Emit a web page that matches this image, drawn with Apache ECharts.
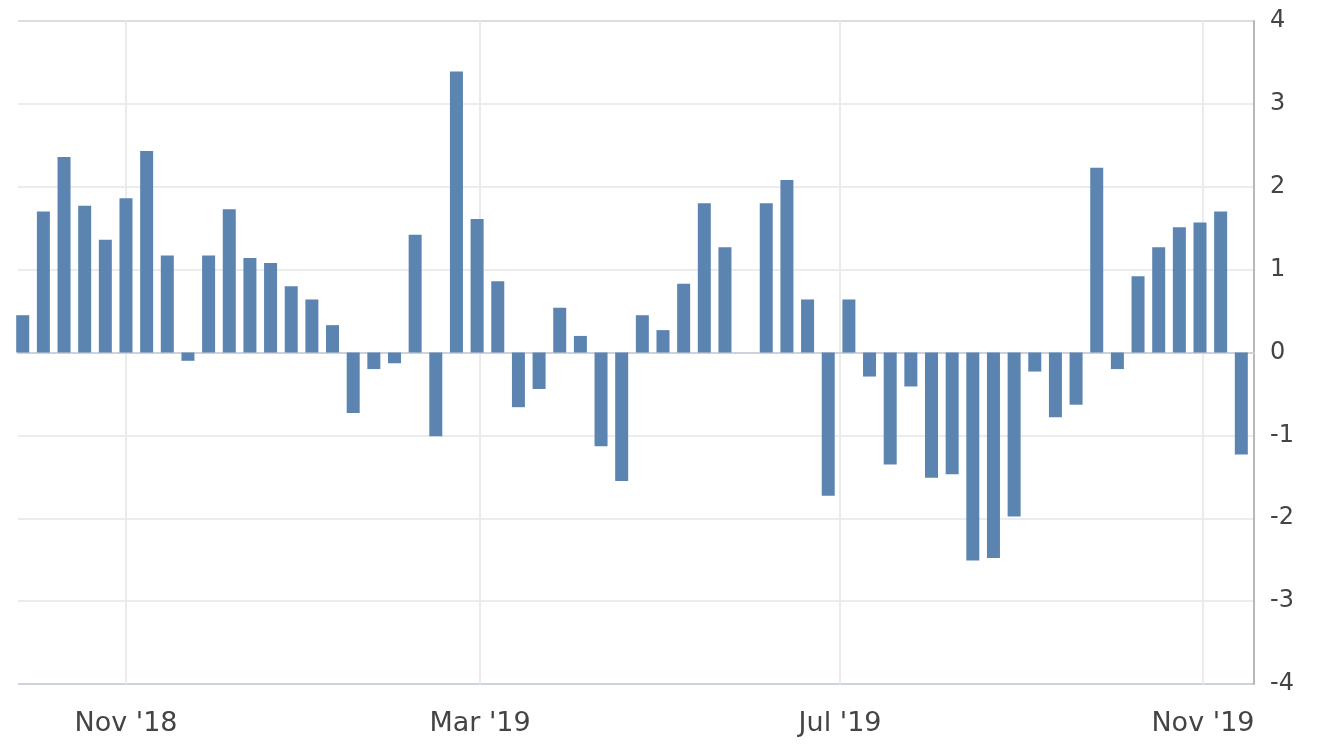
<!DOCTYPE html>
<html>
<head>
<meta charset="utf-8">
<script src="https://cdn.jsdelivr.net/npm/echarts@6/dist/echarts.min.js"></script>
<style>
html,body{margin:0;padding:0;background:#fff;}
#chart{width:1332px;height:750px;}
</style>
</head>
<body>
<div id="chart"></div>
<script>
var weeks = [
  '2018-09-27','2018-10-04','2018-10-11','2018-10-18','2018-10-25','2018-11-01','2018-11-08','2018-11-15',
  '2018-11-22','2018-11-29','2018-12-06','2018-12-13','2018-12-20','2018-12-27','2019-01-03','2019-01-10',
  '2019-01-17','2019-01-24','2019-01-31','2019-02-07','2019-02-14','2019-02-21','2019-02-28','2019-03-07',
  '2019-03-14','2019-03-21','2019-03-28','2019-04-04','2019-04-11','2019-04-18','2019-04-25','2019-05-02',
  '2019-05-09','2019-05-16','2019-05-23','2019-06-06','2019-06-13','2019-06-20','2019-06-27',
  '2019-07-04','2019-07-11','2019-07-18','2019-07-25','2019-08-01','2019-08-08','2019-08-15','2019-08-22',
  '2019-08-29','2019-09-05','2019-09-12','2019-09-19','2019-09-26','2019-10-03','2019-10-10','2019-10-17',
  '2019-10-24','2019-10-31','2019-11-07','2019-11-14'
];
var values = [
  0.45, 1.70, 2.36, 1.77, 1.36, 1.86, 2.43, 1.17,
  -0.10, 1.17, 1.73, 1.14, 1.08, 0.80, 0.64, 0.33,
  -0.73, -0.20, -0.13, 1.42, -1.01, 3.39, 1.61, 0.86,
  -0.66, -0.44, 0.54, 0.20, -1.13, -1.55, 0.45, 0.27,
  0.83, 1.80, 1.27, 1.80, 2.08, 0.64, -1.73,
  0.64, -0.29, -1.35, -0.41, -1.51, -1.47, -2.51, -2.48,
  -1.98, -0.23, -0.78, -0.63, 2.23, -0.20, 0.92, 1.27,
  1.51, 1.57, 1.70, -1.23
];
var monthTicks = ['2018-11-01', '2019-03-01', '2019-07-01', '2019-11-01'];
var monthLabels = ["Nov '18", "Mar '19", "Jul '19", "Nov '19"];
var yTicks = [-4, -3, -2, -1, 0, 1, 2, 3, 4];

var DAY = 86400000;
function ts(s) {
  var p = s.split('-');
  return Date.UTC(+p[0], +p[1] - 1, +p[2]);
}
var tickTimes = monthTicks.map(ts);
var xMin = ts('2018-09-25') + 0.4 * DAY;
var xMax = ts('2019-11-18') + 0.3 * DAY;

var chart = echarts.init(document.getElementById('chart'));
chart.setOption({
  backgroundColor: '#ffffff',
  animation: false,
  grid: { left: 18, right: 78, top: 21, bottom: 66 },
  xAxis: {
    type: 'value',
    min: xMin,
    max: xMax,
    axisLine: { show: true, lineStyle: { color: '#ccd3dc', width: 2 } },
    axisTick: { show: false, customValues: tickTimes },
    splitLine: { show: true, lineStyle: { color: '#ebebeb', width: 2 } },
    axisLabel: {
      customValues: tickTimes,
      margin: 26,
      fontFamily: 'DejaVu Sans',
      fontSize: 27,
      color: '#444',
      hideOverlap: false,
      formatter: function (v) {
        for (var i = 0; i < tickTimes.length; i++) {
          if (Math.abs(tickTimes[i] - v) < DAY / 2) return monthLabels[i];
        }
        return '';
      }
    }
  },
  yAxis: {
    type: 'value',
    position: 'right',
    min: yTicks[0],
    max: yTicks[yTicks.length - 1],
    interval: 1,
    axisLine: { show: true, lineStyle: { color: '#b8b8b8', width: 2 } },
    axisTick: { show: false },
    splitLine: {
      show: true,
      lineStyle: {
        color: ['#ccd3dc', '#ececec', '#ececec', '#ececec', '#c4c4c4', '#ececec', '#ececec', '#ececec', '#dedede'],
        width: 2
      }
    },
    axisLabel: {
      margin: 16,
      fontFamily: 'DejaVu Sans',
      fontSize: 24,
      color: '#444',
      align: 'left'
    }
  },
  series: [{
    type: 'bar',
    barWidth: 13,
    clip: true,
    itemStyle: { color: '#5b84b1' },
    data: weeks.map(function (w, i) { return [ts(w), values[i]]; })
  }]
});
</script>
</body>
</html>
